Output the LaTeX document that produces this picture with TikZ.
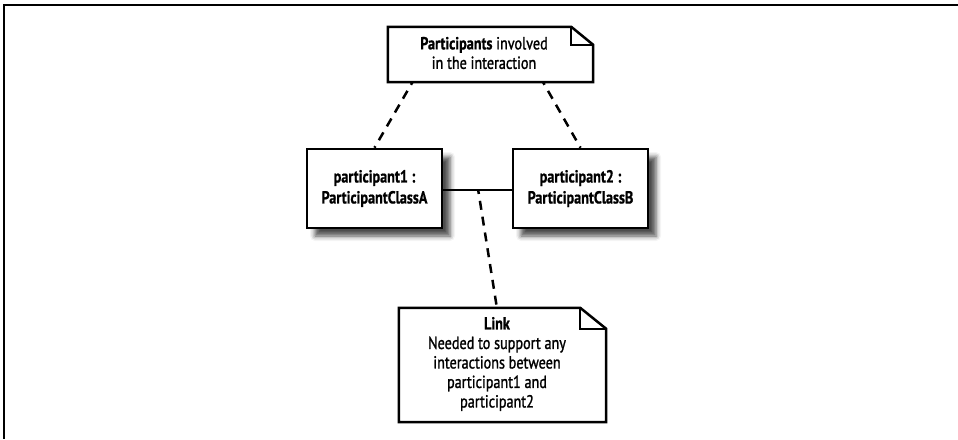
\documentclass[tikz,border=0pt]{standalone}
\usepackage{fontspec}
\setmainfont{PT Sans}[FakeStretch=0.81, UprightFeatures={FakeBold=1.3}, BoldFeatures={FakeBold=0.8}]
\usetikzlibrary{calc,shadows.blur}
\begin{document}
\begin{tikzpicture}[x=1pt,y=-1pt,
  txt/.style={font=\fontsize{17.5}{19.5}\selectfont, align=center, inner sep=0pt},
  notebox/.style={txt, rectangle},
  partbox/.style={txt, draw, line width=2.5pt, fill=white, font=\fontsize{17.5}{21}\selectfont\bfseries,
     blur shadow={shadow xshift=8pt, shadow yshift=-8pt, shadow blur radius=5pt, shadow opacity=70}},
  noteline/.style={line width=2.5pt, fill=white, line join=miter},
  dashline/.style={line width=2.5pt, dash pattern=on 9pt off 7pt},
  solidline/.style={line width=2.5pt}
]
\useasboundingbox (0,0) rectangle (958,439);
% frame
\draw[line width=2pt] (958,5) -- (4,5) -- (4,439);

% top note
\node[notebox, minimum width=205pt, minimum height=55pt] (pnote) at (490.5,54.5) {};
\draw[noteline] (pnote.north west) -- ([xshift=-22pt]pnote.north east) -- ([yshift=-18pt]pnote.north east)
  -- (pnote.south east) -- (pnote.south west) -- cycle;
\draw[noteline, fill=none] ([xshift=-22pt]pnote.north east) |- ([yshift=-18pt]pnote.north east);
\node[txt] (ptext) at (484,53) {\textbf{Participants} involved\\in the interaction};

% participants
\node[partbox, minimum width=135pt, minimum height=79pt] (p1) at (374.5,188.5) {participant1 :\\ParticipantClassA};
\node[partbox, minimum width=135pt, minimum height=79pt] (p2) at (580.5,188.5) {participant2 :\\ParticipantClassB};

% link
\draw[solidline] ([yshift=-1.5pt]p1.east) -- ([yshift=-1.5pt]p2.west) coordinate[pos=0.51] (lk);

% link note
\node[notebox, minimum width=207pt, minimum height=114pt] (lnote) at (502.5,365) {};
\draw[noteline] (lnote.north west) -- ([xshift=-26pt]lnote.north east) -- ([yshift=-21pt]lnote.north east)
  -- (lnote.south east) -- (lnote.south west) -- cycle;
\draw[noteline, fill=none] ([xshift=-26pt]lnote.north east) |- ([yshift=-21pt]lnote.north east);
\node[txt] (ltext) at (497,364) {\textbf{Link}\\Needed to support any\\interactions between\\participant1 and\\participant2};

% dashed connectors
\draw[dashline, dash phase=6pt] ($(pnote.south west)!0.12!(pnote.south east)$) -- (p1.north);
\draw[dashline, dash phase=6pt] ($(pnote.south west)!0.756!(pnote.south east)$) -- (p2.north);
\draw[dashline, dash phase=5pt] (lk) -- ($(lnote.north west)!0.473!(lnote.north east)$);
\end{tikzpicture}
\end{document}
